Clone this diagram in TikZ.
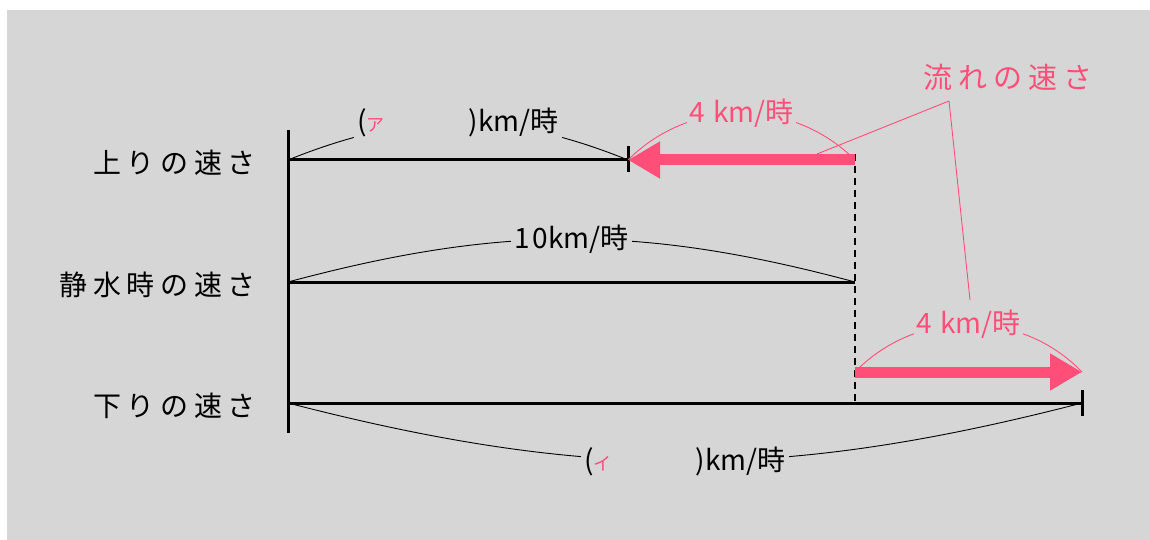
\documentclass[tikz,border=0pt]{standalone}
\usepackage{fontspec}
\usetikzlibrary{arrows.meta}
\setmainfont{Noto Sans CJK JP}
\newfontfamily\spacedjp[LetterSpace=20]{Noto Sans CJK JP}
\newfontfamily\widejp[LetterSpace=20]{Noto Sans CJK JP}
\newcommand*{\rowtextfont}{\spacedjp\fontsize{28}{32}\selectfont}
\newcommand*{\flowtextfont}{\widejp\fontsize{29}{33}\selectfont}
\newcommand*{\arctextfont}{\fontsize{28}{32}\selectfont}
\newcommand*{\kanafont}{\fontsize{18}{18}\selectfont}
\definecolor{bggray}{HTML}{D6D6D6}
\definecolor{flowpink}{HTML}{FF4F79}

\begin{document}
\begin{tikzpicture}
[
	x=1pt,y=-1pt,
	speedline/.style={line width=3pt,line cap=butt},
	arcline/.style={line width=0.9pt},
	pinkline/.style={flowpink,line width=0.9pt},
	rowlabel/.style={anchor=east,inner sep=0pt,font=\rowtextfont},
	arclabel/.style={fill=bggray,inner sep=3pt,font=\arctextfont},
	flowarrow/.style={flowpink,line width=11pt,-{Triangle[length=32pt,width=35pt]}}
]

	% background
	\useasboundingbox (0,0) rectangle (1150,540);
	\fill[white] (0,0) rectangle (1150,540);
	\fill[bggray] (7,10) rectangle (1150,540);

	% rows
	\coordinate (axtop) at (288,130);
	\coordinate (axbot) at (288,433);
	\coordinate (up0) at (288,160);
	\coordinate (up1) at (628,160);
	\coordinate (still0) at (288,282);
	\coordinate (still1) at (855,282);
	\coordinate (down0) at (288,403);
	\coordinate (down1) at (1082,403);

	\node[rowlabel] (uplab) at (256,163) {上りの速さ};
	\node[rowlabel] (stilllab) at (256,285) {静水時の速さ};
	\node[rowlabel] (downlab) at (256,406) {下りの速さ};

	\draw[speedline] (axtop) -- (axbot);
	\draw[speedline] (up0) -- (up1);
	\draw[speedline] (still0) -- (still1);
	\draw[speedline] (down0) -- (down1);
	\draw[speedline] ([yshift=-12pt]up1) -- ([yshift=14pt]up1);
	\draw[speedline] ([yshift=-13pt]down1) -- ([yshift=13pt]down1);
	\draw[line width=2.6pt,dash pattern=on 7pt off 5pt] ([yshift=6pt]still1|-up1) -- (still1|-down1);

	% lengths
	\draw[arcline] (up0) to[bend left=22]
		node[arclabel] (alab) {(\textcolor{flowpink}{\kanafont ア}\hspace{84pt})km/時} (up1);
	\draw[arcline] (still0) to[bend left=15]
		node[arclabel] (stilllen) {1\hspace{3pt}0km/時} (still1);
	\draw[arcline] (down0) to[bend right=14.5]
		node[arclabel] (ilab) {(\textcolor{flowpink}{\kanafont イ}\hspace{84pt})km/時} (down1);

	% current
	\coordinate (flowtop) at (855,160);
	\coordinate (flowbot0) at (855,372);
	\coordinate (flowbot1) at (1082,372);
	\draw[flowarrow] (flowtop) -- (up1);
	\draw[flowarrow] (flowbot0) -- (flowbot1);
	\draw[pinkline] (up1) to[bend left=45]
		node[arclabel,text=flowpink] (fl1) {4\hspace{8pt}km/時} (flowtop);
	\draw[pinkline] (flowbot0) to[bend left=46]
		node[arclabel,text=flowpink] (fl2) {4\hspace{8pt}km/時} (flowbot1);

	\node[font=\flowtextfont,text=flowpink] (flowname) at (1008,77) {流れの速さ};
	\coordinate (ptr) at (949,101);
	\coordinate (ptrA) at (817,154);
	\coordinate (ptrB) at (970,300);
	\draw[pinkline] (ptr) -- (ptrA);
	\draw[pinkline] (ptr) -- (ptrB);

\end{tikzpicture}
\end{document}
